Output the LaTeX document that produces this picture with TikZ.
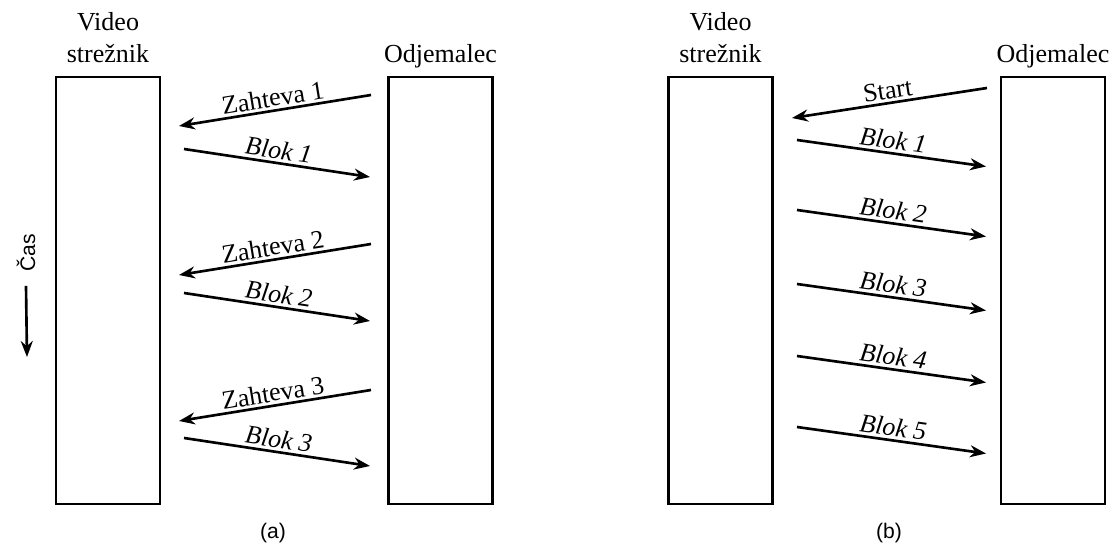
\documentclass[tikz,border=0pt]{standalone}
\usepackage{fontspec}
\setmainfont{Liberation Serif}
\setsansfont{Liberation Sans}
\usetikzlibrary{arrows.meta,positioning}
\tikzset{
  box/.style   = {draw, line width=1.3pt, minimum width=2.08cm, minimum height=8.54cm, inner sep=0pt},
  head/.style  = {font=\fontsize{14.8}{18.1}\selectfont, align=center, inner sep=0pt},
  msg/.style   = {-{Stealth[length=3.2mm,width=2.4mm]}, line width=1.5pt},
  tag/.style   = {font=\fontsize{14.8}{18.1}\selectfont, sloped, above, inner sep=1.5pt},
  panel/.style = {font=\sffamily\fontsize{12}{14}\selectfont}
}

\begin{document}
\begin{tikzpicture}
\useasboundingbox (0,0) rectangle (22.28,-10.98);
% (a) zahteva za vsak blok
\node[box] (srvA) at (2.16,-5.81) {};
\node[box] (cliA) at (8.81,-5.81) {};
\node[head, anchor=south] (srvAt) at ([yshift=0.25cm]srvA.north) {Video\\strežnik};
\node[head, anchor=base] (cliAt) at ([yshift=0.27cm]cliA.north) {Odjemalec};
\foreach \i/\y in {1/1.90, 2/4.88, 3/7.80} {
  \coordinate (zs\i) at (7.42,-\y);
  \coordinate (ze\i) at (3.58,-\y-0.62);
  \draw[msg] (zs\i) -- node[tag] {Zahteva \i} (ze\i);
}
\foreach \i/\y in {1/2.98, 2/5.86, 3/8.76} {
  \coordinate (bs\i) at (3.68,-\y);
  \coordinate (be\i) at (7.40,-\y-0.56);
  \draw[msg] (bs\i) -- node[tag] {\textit{Blok \i}} (be\i);
}
\node[panel, rotate=90] (cas) at (0.52,-5.06) {Čas};
\coordinate (casEnd) at (0.54,-7.14);
\draw[msg] ([yshift=-0.16cm]cas.west) -- (casEnd);
\node[panel] (capA) at (5.46,-10.66) {(a)};

% (b) en zahtevek, tok blokov
\node[box] (srvB) at (14.41,-5.81) {};
\node[box] (cliB) at (21.06,-5.81) {};
\node[head, anchor=south] (srvBt) at ([yshift=0.25cm]srvB.north) {Video\\strežnik};
\node[head, anchor=base] (cliBt) at ([yshift=0.27cm]cliB.north) {Odjemalec};
\coordinate (ss) at (19.74,-1.76);
\coordinate (se) at (15.84,-2.36);
\draw[msg] (ss) -- node[tag] {Start} (se);
\foreach \i/\y in {1/2.80, 2/4.20, 3/5.68, 4/7.12, 5/8.54} {
  \coordinate (ps\i) at (15.94,-\y);
  \coordinate (pe\i) at (19.72,-\y-0.53);
  \draw[msg] (ps\i) -- node[tag] {\textit{Blok \i}} (pe\i);
}
\node[panel] (capB) at (17.78,-10.66) {(b)};
\end{tikzpicture}
\end{document}
